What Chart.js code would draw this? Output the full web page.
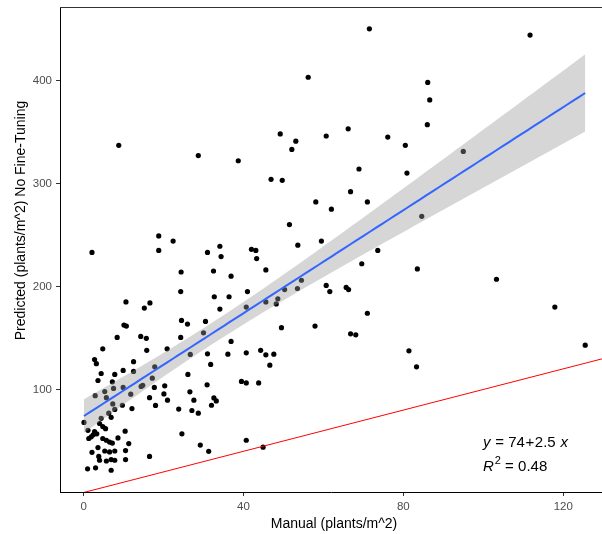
<!DOCTYPE html>
<html>
<head>
<meta charset="utf-8">
<script src="https://cdn.jsdelivr.net/npm/chart.js@4.4.1/dist/chart.umd.min.js"></script>
<style>
  html, body { margin: 0; padding: 0; background: #ffffff; }
  #plot { display: block; }
</style>
</head>
<body>
<canvas id="plot" width="602" height="534"></canvas>
<script>
// Manual counts vs. predicted counts (plants/m^2)
var manualX = [
    56.2, 8.8, 49.2, 53.1, 52.1, 60.7, 28.7, 38.7, 46.9, 49.7,
    58.1, 51.5, 59.5, 53.6, 18.8, 18.8, 22.4, 2.1, 31.0, 34.1,
    34.4, 42.0, 43.1, 43.3, 71.5, 111.7, 86.1, 86.6, 86.0, 66.2,
    76.1, 80.5, 95.0, 68.9, 80.9, 66.8, 71.0, 62.0, 84.6, 73.6,
    69.6, 83.5, 103.3, 117.9, 125.5, 60.7, 61.6, 65.7, 66.3, 71.0,
    57.9, 66.8, 68.1, 81.4, 83.3,
    24.4, 32.5, 36.9, 45.6, 24.3, 32.7, 36.4, 41.0, 10.6, 16.6,
    15.2, 34.1, 40.7, 45.6, 48.2, 48.6, 50.3, 53.5, 54.5, 49.5,
    10.1, 10.7, 24.5, 26.0, 30.5, 8.4, 14.3, 15.7, 24.3, 30.0,
    4.8, 15.8, 20.9, 2.75, 3.2, 12.5, 4.4, 9.9, 12.5, 17.8,
    26.7, 31.0, 31.8, 36.1, 36.9, 40.7, 44.3, 45.6, 47.6, 46.6,
    3.6, 7.2, 7.8, 7.5, 9.9, 14.4, 14.8, 17.2, 17.7, 20.3,
    20.1, 21.0, 16.5, 18.0, 12.1, 26.1, 26.6, 27.6, 27.1, 28.7,
    23.8, 30.9, 32.6, 33.2, 32.0, 39.5, 40.7, 43.8, 24.6, 29.2,
    31.3, 40.7, 44.9, 16.5,
    2.9, 5.3, 5.7, 7.3, 6.3, 11.8, 9.7, 7.8, 0.1, 4.4,
    6.9, 4.0, 4.8, 2.75, 1.1, 1.9, 1.3, 4.8, 5.7, 6.5,
    7.2, 10.4, 8.6, 11.3, 3.6, 2.1, 3.8, 5.3, 6.5, 7.8,
    10.5, 4.0, 5.7, 6.9, 7.8, 10.5, 1.0, 3.0, 6.9, 5.5,
    3.3, 2.4
];
var predictedY = [
    403, 337, 348, 341, 333, 346, 327, 322, 304, 303,
    282, 260, 244, 240, 249, 235, 244, 233, 233, 239,
    229, 236, 235, 227, 450, 444, 398, 381, 357, 353,
    345, 337, 331, 314, 310, 292, 282, 275, 268, 235,
    222, 217, 207, 180, 143, 201, 195, 199, 197, 174,
    161.5, 154, 153, 137.5, 122,
    214, 215, 210, 216, 195, 190, 190, 195, 185, 184,
    179, 178, 180, 185, 183, 188, 197, 198, 206, 160,
    162.5, 161.5, 167, 163.5, 166, 150.5, 151.5, 149.6, 150.5, 155,
    139.5, 138, 139.5, 129, 125, 127, 115.5, 118.5, 117.5, 122,
    134, 134.6, 124.3, 134.3, 146.6, 135.6, 138, 133.6, 134.3, 123.6,
    108.7, 107.4, 114.6, 101, 102, 103, 104, 111, 102, 103.5,
    95.7, 89.6, 92, 84.5, 81.5, 114.6, 97.7, 89.6, 79.6, 77,
    81, 104.5, 91.8, 88.9, 84.7, 107.8, 106.4, 106.4, 57, 46,
    40, 50.7, 44, 35,
    94, 98, 92, 86, 77, 95.4, 84.7, 80.6, 68, 72,
    73, 67, 64, 59, 60.4, 54, 52.4, 52.4, 50.7, 49,
    48, 59.5, 53, 47.5, 43.6, 39, 35, 40.3, 39.4, 40.3,
    40.7, 31.3, 30.6, 32, 31.3, 32, 23, 24, 21.6, 62,
    57, 56
];

// fitted line as reported on the plot
var eqIntercept = 74;
var eqSlope = 2.5;
var rSquared = 0.48;

var xTicks = [0, 40, 80, 120];
var yTicks = [100, 200, 300, 400];
var xLimits = [-5.9, 129.7];
var yLimits = [0.5, 471.2];

var scatterPoints = manualX.map(function (x, i) {
    return { x: x, y: predictedY[i] };
});

// 95% confidence band around the fitted line
var n = manualX.length;
var xMean = manualX.reduce(function (a, b) { return a + b; }, 0) / n;
var sxx = 0, sse = 0;
manualX.forEach(function (x, i) {
    sxx += (x - xMean) * (x - xMean);
    var r = predictedY[i] - (eqIntercept + eqSlope * x);
    sse += r * r;
});
var sigma = Math.sqrt(sse / (n - 2));
var tCrit = 1.973;
var xMin = Math.min.apply(null, manualX);
var xMax = Math.max.apply(null, manualX);

var fitLine = [], bandUpper = [], bandLower = [];
for (var k = 0; k < 80; k++) {
    var xv = xMin + (xMax - xMin) * k / 79;
    var yv = eqIntercept + eqSlope * xv;
    var hw = tCrit * sigma * Math.sqrt(1 / n + (xv - xMean) * (xv - xMean) / sxx);
    fitLine.push({ x: xv, y: yv });
    bandUpper.push({ x: xv, y: yv + hw });
    bandLower.push({ x: xv, y: yv - hw });
}

// 1:1 reference line
var identityLine = [
    { x: xLimits[0], y: xLimits[0] },
    { x: xLimits[1], y: xLimits[1] }
];

var textPlugin = {
    id: "plotText",
    afterDraw: function (chart) {
        var ctx = chart.ctx;
        var area = chart.chartArea;
        ctx.save();

        // top border of the panel
        ctx.strokeStyle = "#333333";
        ctx.lineWidth = 1;
        ctx.beginPath();
        ctx.moveTo(area.left, area.top + 0.5);
        ctx.lineTo(area.right, area.top + 0.5);
        ctx.stroke();

        ctx.fillStyle = "#000000";
        ctx.font = "14px 'Liberation Sans', Arial, sans-serif";
        ctx.textAlign = "center";
        ctx.textBaseline = "alphabetic";
        ctx.fillText("Manual (plants/m^2)", 334, 528);

        ctx.save();
        ctx.translate(24.5, 220.5);
        ctx.rotate(-Math.PI / 2);
        ctx.fillText("Predicted (plants/m^2) No Fine-Tuning", 0, 0);
        ctx.restore();

        // regression equation
        ctx.textAlign = "left";
        var italic = "italic 15px 'Liberation Sans', Arial, sans-serif";
        var plain = "15px 'Liberation Sans', Arial, sans-serif";
        var x0 = 483, y1 = 446.5, y2 = 471;
        var parts = [
            [italic, "y"], [plain, " = " + eqIntercept], [plain, "+"],
            [plain, eqSlope.toFixed(1) + " "], [italic, "x"]
        ];
        var cx = x0;
        parts.forEach(function (p) {
            ctx.font = p[0];
            ctx.fillText(p[1], cx, y1);
            cx += ctx.measureText(p[1]).width + 0.6;
        });

        cx = x0;
        ctx.font = italic;
        ctx.fillText("R", cx, y2);
        cx += ctx.measureText("R").width + 1;
        ctx.font = "11px 'Liberation Sans', Arial, sans-serif";
        ctx.fillText("2", cx, y2 - 7);
        cx += ctx.measureText("2").width;
        ctx.font = plain;
        ctx.fillText(" = " + rSquared.toFixed(2), cx, y2);

        ctx.restore();
    }
};

var tickFont = { family: "'Liberation Sans', Arial, sans-serif", size: 11.5 };

new Chart(document.getElementById("plot"), {
    type: "scatter",
    data: {
        datasets: [
            {
                label: "fit",
                type: "line",
                data: fitLine,
                borderColor: "#3366FF",
                borderWidth: 2,
                pointRadius: 0,
                fill: false,
                order: 0
            },
            {
                label: "1:1",
                type: "line",
                data: identityLine,
                borderColor: "#FF0000",
                borderWidth: 1,
                pointRadius: 0,
                fill: false,
                order: 1
            },
            {
                label: "upper",
                type: "line",
                data: bandUpper,
                borderWidth: 0,
                borderColor: "rgba(0,0,0,0)",
                pointRadius: 0,
                backgroundColor: "rgba(153,153,153,0.4)",
                fill: "+1",
                order: 2
            },
            {
                label: "lower",
                type: "line",
                data: bandLower,
                borderWidth: 0,
                borderColor: "rgba(0,0,0,0)",
                pointRadius: 0,
                fill: false,
                order: 2
            },
            {
                label: "points",
                data: scatterPoints,
                backgroundColor: "#000000",
                borderWidth: 0,
                pointRadius: 2.6,
                order: 3
            }
        ]
    },
    options: {
        responsive: false,
        animation: false,
        layout: { autoPadding: false, padding: { top: 7, right: 0, bottom: 0, left: 0 } },
        plugins: {
            legend: { display: false },
            tooltip: { enabled: false }
        },
        scales: {
            x: {
                type: "linear",
                min: xLimits[0],
                max: xLimits[1],
                afterBuildTicks: function (scale) {
                    scale.ticks = xTicks.map(function (v) { return { value: v }; });
                },
                afterFit: function (scale) {
                    scale.height = 42;
                    scale.paddingLeft = 0;
                    scale.paddingRight = 0;
                },
                grid: { drawOnChartArea: false, drawTicks: true, tickLength: 4, color: "#333333" },
                border: { display: true, color: "#000000", width: 1 },
                ticks: { color: "#4D4D4D", font: tickFont, padding: 4, maxRotation: 0 }
            },
            y: {
                type: "linear",
                min: yLimits[0],
                max: yLimits[1],
                afterBuildTicks: function (scale) {
                    scale.ticks = yTicks.map(function (v) { return { value: v }; });
                },
                afterFit: function (scale) {
                    scale.width = 60;
                    scale.paddingTop = 0;
                    scale.paddingBottom = 0;
                },
                grid: { drawOnChartArea: false, drawTicks: true, tickLength: 4, color: "#333333" },
                border: { display: true, color: "#000000", width: 1 },
                ticks: { color: "#4D4D4D", font: tickFont, padding: 4 }
            }
        }
    },
    plugins: [textPlugin]
});
</script>
</body>
</html>
